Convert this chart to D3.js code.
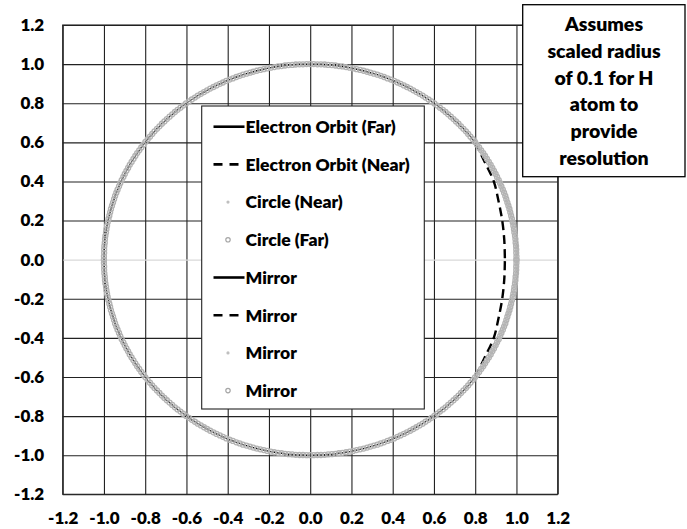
<!DOCTYPE html>
<html>
<head>
<meta charset="utf-8">
<script src="https://cdn.jsdelivr.net/npm/d3@7"></script>
<style>
body { margin: 0; background: #fff; }
text { font-family: Lato, "Open Sans", sans-serif; font-weight: 800; fill: #000; }
</style>
</head>
<body>
<div id="chart"></div>
<script>
// axis ticks (both axes)
var axisTicks = [-1.2, -1.0, -0.8, -0.6, -0.4, -0.2, 0.0, 0.2, 0.4, 0.6, 0.8, 1.0, 1.2];

// reference circle, read as cos of 0..90 degrees in 1 degree steps (first quadrant)
var circleCos = [1.000, 1.000, 0.999, 0.999, 0.998, 0.996, 0.995, 0.993, 0.990, 0.988,
    0.985, 0.982, 0.978, 0.974, 0.970, 0.966, 0.961, 0.956, 0.951, 0.946,
    0.940, 0.934, 0.927, 0.921, 0.914, 0.906, 0.899, 0.891, 0.883, 0.875,
    0.866, 0.857, 0.848, 0.839, 0.829, 0.819, 0.809, 0.799, 0.788, 0.777,
    0.766, 0.755, 0.743, 0.731, 0.719, 0.707, 0.695, 0.682, 0.669, 0.656,
    0.643, 0.629, 0.616, 0.602, 0.588, 0.574, 0.559, 0.545, 0.530, 0.515,
    0.500, 0.485, 0.469, 0.454, 0.438, 0.423, 0.407, 0.391, 0.375, 0.358,
    0.342, 0.326, 0.309, 0.292, 0.276, 0.259, 0.242, 0.225, 0.208, 0.191,
    0.174, 0.156, 0.139, 0.122, 0.105, 0.087, 0.070, 0.052, 0.035, 0.017, 0.000];

// near side of the orbit (upper half, mirrored below)
var nearOrbit = [[0.800, 0.600], [0.846, 0.500], [0.890, 0.400], [0.913, 0.300],
    [0.931, 0.200], [0.941, 0.100], [0.944, 0.000]];

// angle (deg) where the far orbit / far circle starts
var nearLimitDeg = 37;

var legendLabels = ["Electron Orbit (Far)", "Electron Orbit (Near)", "Circle (Near)", "Circle (Far)",
    "Mirror", "Mirror", "Mirror", "Mirror"];
var legendKinds = ["solid", "dashed", "dot", "ring", "solid", "dashed", "dot", "ring"];

var noteLines = ["Assumes", "scaled radius", "of 0.1 for H", "atom to", "provide", "resolution"];

// upper half of the circle from the quadrant table
var upperCircle = d3.range(0, 181).map(function(a) {
    return {
        deg: a,
        x: a <= 90 ? circleCos[a] : -circleCos[180 - a],
        y: a <= 90 ? circleCos[90 - a] : circleCos[a - 90]
    };
});
function mirror(p) { return { deg: p.deg, x: p.x, y: -p.y }; }

var W = 687, H = 529;
var plot = { left: 62.7, right: 557.7, top: 25, bottom: 494.3 };

var x = d3.scaleLinear().domain([-1.2, 1.2]).range([plot.left, plot.right]);
var y = d3.scaleLinear().domain([-1.2, 1.2]).range([plot.bottom, plot.top]);
var fmt = function(d) { return d.toFixed(1); };

var svg = d3.select("#chart").append("svg")
    .attr("width", W)
    .attr("height", H);

// grid + tick labels
var gx = svg.append("g")
    .attr("class", "x-axis")
    .attr("transform", "translate(0," + plot.bottom + ")")
    .call(d3.axisBottom(x).tickValues(axisTicks).tickFormat(fmt)
        .tickSize(-(plot.bottom - plot.top)).tickPadding(17.5));
var gy = svg.append("g")
    .attr("class", "y-axis")
    .attr("transform", "translate(" + plot.left + ",0)")
    .call(d3.axisLeft(y).tickValues(axisTicks).tickFormat(fmt)
        .tickSize(-(plot.right - plot.left)).tickPadding(18.5));

[gx, gy].forEach(function(g) {
    g.select(".domain").remove();
    g.selectAll("line").attr("stroke", "#222").attr("stroke-width", 1.1);
    g.selectAll("text").style("font-size", "17px").attr("fill", "#000");
});
gy.selectAll(".tick").filter(function(d) { return d === 0; })
    .select("line").attr("stroke", "#d9d9d9");

svg.append("rect")
    .attr("x", plot.left).attr("y", plot.top)
    .attr("width", plot.right - plot.left).attr("height", plot.bottom - plot.top)
    .attr("fill", "none").attr("stroke", "#222").attr("stroke-width", 1.1);

// series
var line = d3.line().x(function(d) { return x(d.x); }).y(function(d) { return y(d.y); });
var smooth = d3.line().x(function(d) { return x(d[0]); }).y(function(d) { return y(d[1]); })
    .curve(d3.curveCatmullRom);

var farOrbit = upperCircle.filter(function(p) { return p.deg >= nearLimitDeg; });
[farOrbit, farOrbit.map(mirror)].forEach(function(pts) {
    svg.append("path").attr("d", line(pts))
        .attr("fill", "none").attr("stroke", "#000").attr("stroke-width", 1.4);
});

[nearOrbit, nearOrbit.map(function(p) { return [p[0], -p[1]]; })].forEach(function(pts) {
    svg.append("path").attr("d", smooth(pts))
        .attr("fill", "none").attr("stroke", "#000").attr("stroke-width", 2.4)
        .attr("stroke-dasharray", "9,5");
});

var nearCircle = upperCircle.filter(function(p) { return p.deg <= nearLimitDeg; });
svg.append("g").selectAll("circle")
    .data(nearCircle.concat(nearCircle.map(mirror)))
    .enter().append("circle")
    .attr("cx", function(d) { return x(d.x); })
    .attr("cy", function(d) { return y(d.y); })
    .attr("r", 1.6)
    .attr("fill", "#bfbfbf");

svg.append("g").selectAll("circle")
    .data(upperCircle.concat(upperCircle.map(mirror)))
    .enter().append("circle")
    .attr("cx", function(d) { return x(d.x); })
    .attr("cy", function(d) { return y(d.y); })
    .attr("r", 2.5)
    .attr("fill", "none")
    .attr("stroke", "#b3b3b3")
    .attr("stroke-width", 1.3);

// legend
var legend = svg.append("g").attr("class", "legend");
legend.append("rect")
    .attr("x", 201.7).attr("y", 106).attr("width", 222.6).attr("height", 303)
    .attr("fill", "#fff").attr("stroke", "#222").attr("stroke-width", 1.1);

var item = legend.selectAll("g.item")
    .data(legendLabels)
    .enter().append("g")
    .attr("class", "item")
    .attr("transform", function(d, i) { return "translate(0," + (126.7 + i * 37.7) + ")"; });

item.each(function(d, i) {
    var g = d3.select(this), kind = legendKinds[i];
    if (kind === "solid" || kind === "dashed") {
        g.append("line").attr("x1", 213.5).attr("x2", 244.5).attr("y1", 0).attr("y2", 0)
            .attr("stroke", "#000").attr("stroke-width", 2.6)
            .attr("stroke-dasharray", kind === "dashed" ? "9,7" : null);
    } else if (kind === "dot") {
        g.append("circle").attr("cx", 228).attr("cy", 0).attr("r", 1.6).attr("fill", "#bfbfbf");
    } else {
        g.append("circle").attr("cx", 228).attr("cy", 0).attr("r", 2.2)
            .attr("fill", "none").attr("stroke", "#a6a6a6").attr("stroke-width", 1.2);
    }
    g.append("text").attr("x", 245.5).attr("y", 6.3)
        .style("font-size", "17.5px").text(d);
});

// note box
svg.append("rect")
    .attr("x", 522.7).attr("y", 4.7).attr("width", 162.3).attr("height", 172)
    .attr("fill", "#fff").attr("stroke", "#000").attr("stroke-width", 1.3);
svg.append("g").selectAll("text")
    .data(noteLines)
    .enter().append("text")
    .attr("x", 604)
    .attr("y", function(d, i) { return 31 + i * 26.8; })
    .attr("text-anchor", "middle")
    .style("font-size", "19.5px")
    .text(function(d) { return d; });
</script>
</body>
</html>
